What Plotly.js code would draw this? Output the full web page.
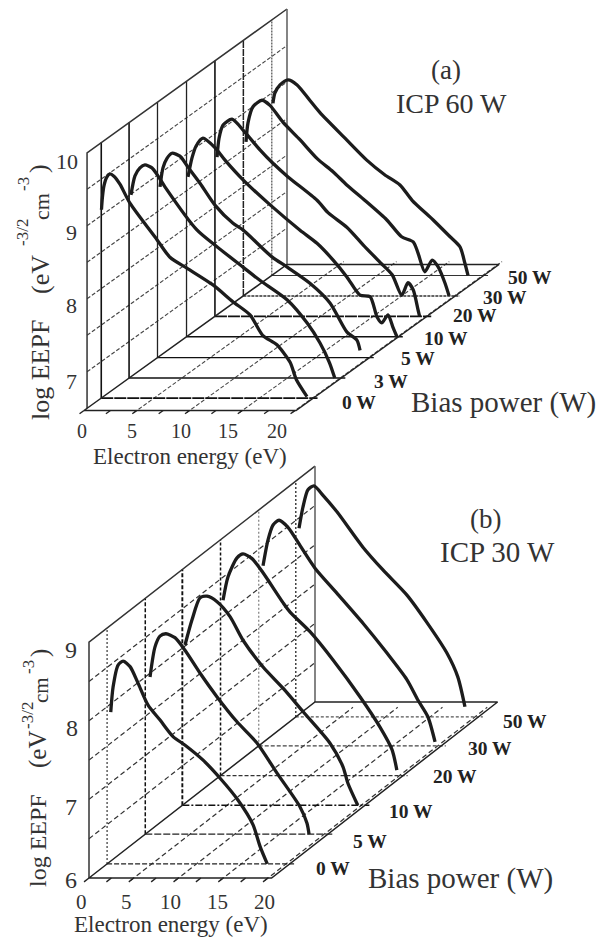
<!DOCTYPE html>
<html>
<head>
<meta charset="utf-8">
<script src="https://cdn.plot.ly/plotly-3.0.1.min.js"></script>
<style>html,body{margin:0;padding:0;background:#fff}#chart{width:606px;height:938px}</style>
</head>
<body>
<div id="chart"></div>
<script>
// ---------- Data: electron energy (eV) and log EEPF ----------
const biasA = ['0 W','3 W','5 W','10 W','20 W','30 W','50 W'];
const biasB = ['0 W','5 W','10 W','20 W','30 W','50 W'];
const energyTicks = [0,5,10,15,20];

const a0E=[0.02,0.11,0.26,0.54,0.82,1.2,1.77,2.72,5.28,6.51,8.12,10.59,12.48,14.1,15.3,16.65,17.9,18.5,19.5];
const a0L=[9.08,9.25,9.41,9.53,9.57,9.54,9.43,9.17,8.67,8.43,8.28,8.05,7.82,7.64,7.36,7.23,6.99,6.75,6.52];
const a3E=[0.18,0.56,1.03,1.5,2.17,2.74,3.4,6.43,8.33,10.8,12.4,15,16.9,18.1,19.0,19.5];
const a3L=[9.01,9.27,9.38,9.42,9.38,9.27,9.12,8.53,8.30,8.02,7.84,7.57,7.25,6.98,6.71,6.5];
const a5E=[0.24,0.52,0.9,1.37,2.13,2.89,4.03,5.45,7.16,8.1,10.85,12.3,14.45,16.35,17.96,18.9,19.2];
const a5L=[8.84,9.10,9.23,9.30,9.26,9.11,8.89,8.59,8.34,8.25,7.88,7.74,7.52,7.25,6.85,6.74,6.60];
const a10E=[0.14,0.52,0.9,1.56,2.7,3.65,5.36,7.9,10.76,12.37,13.9,15.2,16.45,17.4,18.06,18.5,19.1,19.57,19.95];
const a10L=[8.69,8.95,9.11,9.22,9.09,8.92,8.65,8.31,7.96,7.78,7.55,7.32,7.07,7.05,6.77,6.69,6.80,6.63,6.5];
const a20E=[0.2,0.39,0.77,1.62,2.85,4.27,5.4,6.93,9.68,10.72,12.5,14.04,15.65,16.8,17.7,18.3,18.8,19.25,19.4];
const a20L=[8.68,8.94,9.12,9.20,9.02,8.78,8.61,8.41,8.09,7.92,7.72,7.48,7.24,7.07,6.79,6.96,6.86,6.59,6.5];
const a30E=[0.25,0.44,0.91,1.76,2.52,3.75,5.36,7.0,8.5,9.8,11.5,13.6,15.0,16.1,16.55,17.2,17.9,18.45,19.1,19.5];
const a30L=[8.61,8.87,9.09,9.18,9.11,8.88,8.64,8.38,8.20,8.02,7.81,7.54,7.31,7.24,7.09,6.83,6.99,6.90,6.68,6.5];
const a50E=[0.11,0.3,0.78,1.54,2.4,3.6,4.57,6.94,9.0,10.7,12.15,13.3,15.3,16.9,17.85,18.3,18.6];
const a50L=[8.86,9.0,9.11,9.18,9.11,8.90,8.73,8.38,8.08,7.88,7.74,7.53,7.26,7.03,6.89,6.67,6.5];

const b0E=[0.41,0.67,1.23,1.79,2.57,3.46,4.58,5.92,7.37,8.72,10.73,12.63,14.64,16.3,17.1,17.9];
const b0L=[7.93,8.25,8.53,8.58,8.51,8.30,8.02,7.83,7.62,7.51,7.32,7.09,6.81,6.50,6.22,6.0];
const b5E=[0.53,1.08,1.64,2.31,3.32,4.44,6.11,8.0,10.25,12.48,14.7,17.28,18.07,18.3];
const b5L=[8.0,8.38,8.52,8.55,8.50,8.34,8.05,7.75,7.43,7.16,6.78,6.35,6.14,6.0];
const b10E=[0.3,1.08,1.98,2.76,3.88,5.33,6.78,9.02,11.25,13.5,16.5,17.95,18.5,19.6];
const b10L=[8.04,8.36,8.64,8.66,8.59,8.40,8.10,7.76,7.49,7.19,6.79,6.49,6.28,6.0];
const b20E=[0.28,0.84,1.84,2.51,3.52,4.75,6.98,7.77,10.0,12.57,15.6,17.8,19.16,19.7];
const b20L=[8.23,8.53,8.77,8.82,8.76,8.58,8.20,8.08,7.83,7.47,7.0,6.62,6.33,6.07];
const b30E=[0.48,1.04,1.6,2.27,3.27,4.61,6.29,8.75,11.65,14.33,16.57,17.8,18.9,19.7];
const b30L=[8.29,8.62,8.81,8.87,8.78,8.55,8.26,7.94,7.56,7.18,6.84,6.58,6.37,6.05];
const b50E=[0.36,0.8,1.36,2.03,3.04,4.6,7.5,9.74,12.42,14.66,16.9,18.1,18.9];
const b50L=[8.40,8.67,8.89,8.94,8.82,8.61,8.16,7.87,7.55,7.20,6.81,6.51,6.13];

const curvesA=[[a0E,a0L],[a3E,a3L],[a5E,a5L],[a10E,a10L],[a20E,a20L],[a30E,a30L],[a50E,a50L]];
const curvesB=[[b0E,b0L],[b5E,b5L],[b10E,b10L],[b20E,b20L],[b30E,b30L],[b50E,b50L]];

// ---------- Oblique projection of each panel ----------
const panelA={ox:84,oy:410.5,ex:10.55,ly:73,dx:203,dy:146,lmin:6.5,lmax:10,lstep:0.5,wallD:0.015,edgeE:20.1,lineE:20.5,
  depth:[.085,.222,.362,.505,.645,.785,.925],curves:curvesA};
const panelB={ox:89,oy:878,ex:8.95,ly:78.6,dx:226,dy:176,lmin:6,lmax:9,lstep:0.5,wallD:0,edgeE:20.4,lineE:20.9,
  depth:[.08,.249,.413,.582,.751,.915],curves:curvesB};
const px=(p,E,d)=>p.ox+p.ex*E+p.dx*d;
const py=(p,L,d)=>p.oy-(L-p.lmin)*p.ly-p.dy*d;

const traces=[];
function seg(p,pts,color,width,dash){
  traces.push({type:'scatter',mode:'lines',hoverinfo:'skip',showlegend:false,
    x:pts.map(q=>q?px(p,q[0],q[1]):null),y:pts.map(q=>q?py(p,q[2],q[1]):null),
    line:{color:color,width:width,dash:dash||'solid'}});
}
// styles of each depth plane's vertical and floor lines
const vertA=[['#111',1.6],['#111',1.6],['#222',1.3],['#222',1.3],['#111',1.6],['#222',1.5,'7px,1px'],['#666',1.4,'2px,1px']];
const horA =[['#111',1.6,'12px,1px'],['#111',1.5],['#111',1.4],['#111',1.6],['#111',1.6,'12px,1px'],['#333',1.5,'3px,1px'],['#333',1.1]];
const vertB=[['#222',1.1,'2px,2px'],['#111',1.5,'4px,2px'],['#111',1.9,'4px,2px'],['#111',1.5,'3px,2px'],['#888',1.3,'2px,2px'],['#333',1.4,'2px,2px']];
const horB =[['#222',1.2,'5px,2px'],['#222',1.2,'7px,2px'],['#111',1.5,'7px,2px,2px,2px'],['#333',1.2,'4px,2px'],['#444',1.2,'4px,2px'],['#555',1.2,'3px,2px']];

function drawPanel(p,vert,hor,gridDash,gridColor,gridW){
  // left wall diagonal grid
  const pts=[];
  for(let L=p.lmin+p.lstep;L<p.lmax-1e-6;L+=p.lstep){pts.push([0,p.wallD,L],[0,1,L],null);}
  seg(p,pts,gridColor,gridW,gridDash);
  // floor diagonal grid
  const fl=[];
  [5,10,15,20].forEach(E=>{fl.push([E,-0.015,p.lmin],[E,p.wallD===0?0.97:1.02,p.lmin],null);});
  seg(p,fl,gridColor,gridW,gridDash);
  // vertical lines and floor lines
  p.depth.forEach((d,i)=>{
    seg(p,[[0,d,p.lmin],[0,d,p.lmax]],vert[i][0],vert[i][1],vert[i][2]);
    seg(p,[[0,d,p.lmin],[p.lineE,d,p.lmin]],hor[i][0],hor[i][1],hor[i][2]);
  });
  // frame
  seg(p,[[0,p.wallD,p.lmin],[0,p.wallD,p.lmax],[0,1,p.lmax]],'#333',1.5);
  seg(p,[[0,1,p.lmin],[0,1,p.lmax]],'#666',1.6);
  seg(p,[[0,0,p.lmin],[0,1,p.lmin],[p.edgeE,1,p.lmin],[p.edgeE,0,p.lmin],[0,0,p.lmin]],'#222',1.5);
  const tk=[];
  for(let k=0;k<=8;k++){tk.push([k*2.5,0,p.lmin],[k*2.5,-0.022,p.lmin],null);}
  seg(p,tk,'#222',1.4);
  // EEPF curves
  p.curves.forEach((c,i)=>{
    const d=p.depth[i];
    traces.push({type:'scatter',mode:'lines',hoverinfo:'skip',showlegend:false,
      x:c[0].map(E=>px(p,E,d)),y:c[1].map(L=>py(p,L,d)),
      line:{color:'#1c1c1c',width:3.3,shape:'spline',smoothing:0.7}});
  });
}
drawPanel(panelA,vertA,horA,'4px,2px','#444',1.1);
drawPanel(panelB,vertB,horB,'5px,3px','#333',1.2);

// ---------- Text ----------
const SERIF='"Liberation Serif",serif';
const TXT='#333';
function note(x,y,text,size,opts){
  return Object.assign({xref:'x',yref:'y',x:x,y:y,text:text,showarrow:false,xanchor:'center',yanchor:'middle',
    font:{family:SERIF,size:size,color:TXT}},opts||{});
}
const up={textangle:-90};
const ann=[];
ann.push(note(446,70,'(a)',27),note(451,103,'ICP 60 W',28));
ann.push(note(485,519,'(b)',27),note(497,552,'ICP 30 W',29));
ann.push(note(503,402,'Bias power (W)',29),note(460,878,'Bias power (W)',29));
ann.push(note(190,456,'Electron energy (eV)',23),note(171,924,'Electron energy (eV)',23));
// y titles, piece by piece so each raised part sits where the reference has it
ann.push(note(40,370,'log EEPF',26,up),note(40,275,'(eV',26,up),note(22,233,'-3/2',17,up),
         note(41,207,'cm',22,up),note(23,184,'-3',17,up),note(38,169,')',26,up));
ann.push(note(38,841,'log EEPF',24,up),note(38,750,'(eV',25,up),note(27,716,'-3/2',17,up),
         note(41,690,'cm',21,up),note(28,667,'-3',17,up),note(40,653,')',25,up));
// y ticks
[[10,67,161],[9,71,232],[8,71,305],[7,71,381]].forEach(t=>ann.push(note(t[1],t[2],String(t[0]),22)));
[[9,71,650],[8,72,728],[7,71,807],[6,71,880]].forEach(t=>ann.push(note(t[1],t[2],String(t[0]),24)));
// x ticks
[82,132,181,228,277].forEach((x,i)=>ann.push(note(x,431,String(energyTicks[i]),20)));
[81,126,170,217,264].forEach((x,i)=>ann.push(note(x,902,String(energyTicks[i]),21)));
// bias labels
const boldA=[[359,402],[391,381],[418,358],[446,338],[475,315],[505,297],[530,277]];
boldA.forEach((q,i)=>ann.push(note(q[0],q[1],'<b>'+biasA[i]+'</b>',19.5,{font:{family:SERIF,size:19.5,color:'#222'}})));
const boldB=[[333,868],[370,841],[411,811],[455,776],[490,748],[525,721]];
boldB.forEach((q,i)=>ann.push(note(q[0],q[1],'<b>'+biasB[i]+'</b>',19.5,{font:{family:SERIF,size:19.5,color:'#222'}})));

const layout={width:606,height:938,margin:{l:0,r:0,t:0,b:0},paper_bgcolor:'#fff',plot_bgcolor:'#fff',showlegend:false,
  xaxis:{range:[0,606],visible:false,fixedrange:true},
  yaxis:{range:[938,0],visible:false,fixedrange:true},
  annotations:ann};
Plotly.newPlot('chart',traces,layout,{displayModeBar:false,staticPlot:true});
</script>
</body>
</html>
